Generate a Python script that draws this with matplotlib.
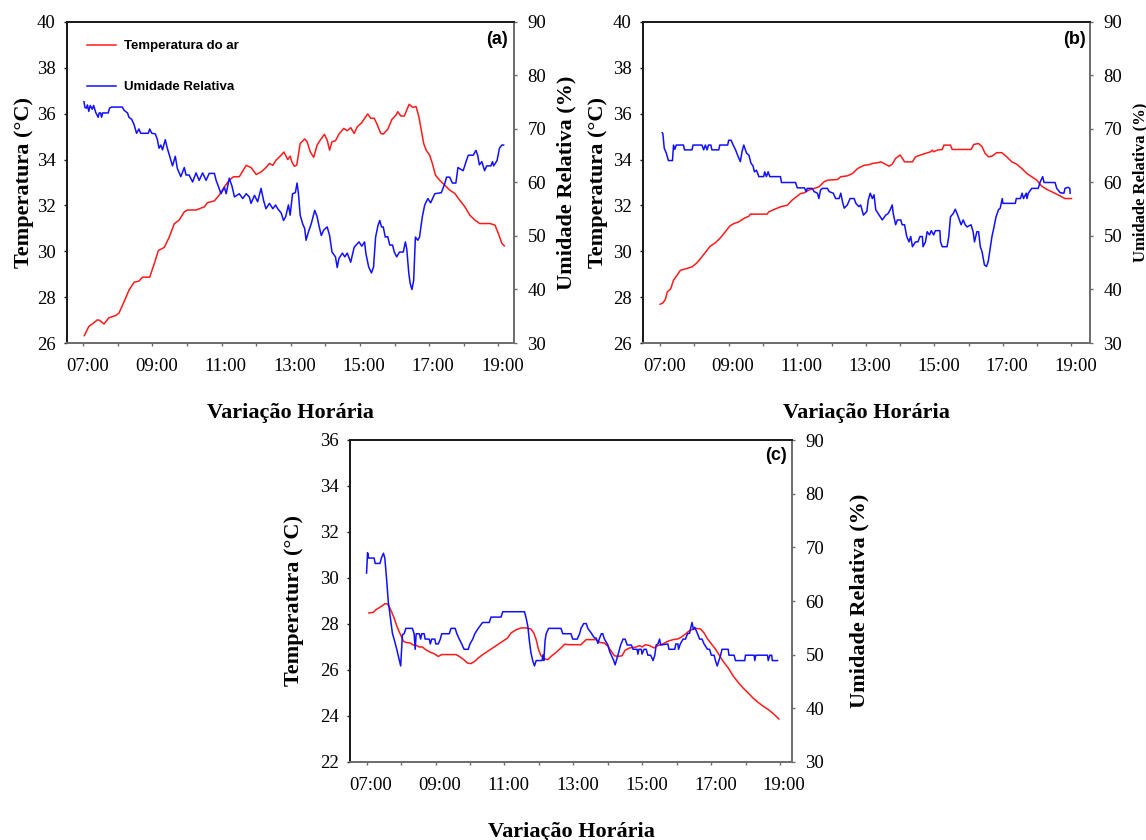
import matplotlib
matplotlib.use("Agg")
import matplotlib.pyplot as plt
from matplotlib.ticker import MultipleLocator, FixedLocator
from matplotlib.transforms import ScaledTranslation

# ---------------- data (hour of day, value) ----------------
tick_hours = [7, 9, 11, 13, 15, 17, 19]
tick_labels = ["07:00", "09:00", "11:00", "13:00", "15:00", "17:00", "19:00"]

a_temp = [(7.03,26.32),(7.16,26.72),(7.26,26.83),(7.41,27.01),(7.47,26.99),(7.6,26.83),(7.74,27.1),(7.94,27.2),
          (8.03,27.3),(8.18,27.8),(8.32,28.3),(8.47,28.65),(8.61,28.7),(8.71,28.87),(8.92,28.87),(9.05,29.45),
          (9.17,30.03),(9.34,30.17),(9.48,30.6),(9.63,31.2),(9.77,31.36),(9.92,31.72),(10.01,31.8),(10.26,31.8),
          (10.5,31.94),(10.59,32.12),(10.79,32.2),(10.93,32.45),(11.08,32.81),(11.22,33.1),(11.34,33.25),(11.51,33.25),
          (11.71,33.75),(11.85,33.65),(12.0,33.35),(12.14,33.46),(12.28,33.65),(12.38,33.83),(12.48,33.75),(12.57,33.97),
          (12.72,34.19),(12.8,34.33),(12.91,34.0),(12.98,34.15),(13.03,33.9),(13.1,33.71),(13.17,33.76),(13.27,34.7),
          (13.4,34.9),(13.47,34.78),(13.56,34.34),(13.66,34.1),(13.76,34.63),(13.85,34.85),(13.97,35.1),(14.05,34.85),
          (14.12,34.41),(14.19,34.78),(14.29,34.82),(14.39,35.11),(14.53,35.36),(14.63,35.26),(14.73,35.39),(14.83,35.14),
          (14.92,35.43),(15.05,35.61),(15.15,35.84),(15.22,35.99),(15.31,35.8),(15.41,35.8),(15.48,35.58),(15.6,35.14),
          (15.67,35.11),(15.8,35.32),(15.92,35.75),(16.04,35.94),(16.09,36.09),(16.18,35.9),(16.28,35.9),(16.35,36.16),
          (16.42,36.41),(16.52,36.28),(16.62,36.31),(16.7,35.87),(16.77,35.29),(16.84,34.7),(16.91,34.41),(17.01,34.2),
          (17.09,33.83),(17.18,33.32),(17.3,33.1),(17.45,32.88),(17.59,32.67),(17.74,32.52),(17.88,32.23),(18.03,31.94),
          (18.17,31.58),(18.32,31.36),(18.46,31.21),(18.76,31.21),(18.9,31.14),(19.0,30.77),(19.1,30.34),(19.17,30.24)]

a_rh = [(7.02,75.1),(7.05,74.0),(7.09,73.9),(7.12,74.5),(7.16,73.3),(7.2,74.4),(7.26,73.7),(7.3,74.4),(7.36,73.1),
        (7.43,72.2),(7.46,73.0),(7.5,73.0),(7.53,72.2),(7.56,73.0),(7.72,73.0),(7.76,73.9),(7.82,74.1),(8.13,74.1),
        (8.18,73.5),(8.28,73.0),(8.32,72.2),(8.4,71.8),(8.47,70.8),(8.54,69.2),(8.61,70.0),(8.66,69.2),(8.88,69.2),
        (8.92,70.0),(8.98,69.2),(9.08,69.1),(9.14,68.1),(9.19,66.4),(9.24,67.0),(9.29,66.1),(9.37,68.0),(9.43,66.4),
        (9.53,64.2),(9.58,63.1),(9.66,64.9),(9.72,62.6),(9.82,61.1),(9.92,62.8),(9.97,61.4),(10.06,61.4),(10.16,60.1),
        (10.26,61.8),(10.35,60.4),(10.45,61.8),(10.55,60.4),(10.64,61.7),(10.79,61.7),(10.84,60.4),(10.91,59.2),
        (10.98,57.9),(11.08,59.1),(11.13,57.9),(11.22,60.8),(11.3,59.3),(11.37,57.3),(11.51,57.9),(11.61,57.0),
        (11.71,57.9),(11.8,57.3),(11.85,56.1),(11.95,57.6),(12.04,56.4),(12.14,58.9),(12.21,56.7),(12.28,55.1),
        (12.38,56.1),(12.48,55.1),(12.56,55.8),(12.62,55.1),(12.72,54.3),(12.79,52.9),(12.85,53.6),(12.93,55.8),
        (12.98,53.9),(13.05,57.9),(13.13,58.1),(13.18,59.9),(13.22,57.9),(13.27,53.9),(13.34,52.3),(13.4,51.4),
        (13.44,49.2),(13.51,50.8),(13.59,52.3),(13.69,54.8),(13.76,53.6),(13.81,52.0),(13.88,50.1),(13.95,51.1),
        (14.05,51.7),(14.12,50.1),(14.19,47.0),(14.29,46.1),(14.34,44.1),(14.39,45.8),(14.49,46.8),(14.56,46.1),
        (14.63,46.8),(14.73,45.1),(14.83,47.9),(14.97,48.9),(15.05,48.1),(15.13,48.9),(15.17,46.7),(15.25,44.2),
        (15.33,43.1),(15.39,44.2),(15.45,49.8),(15.52,52.0),(15.57,52.9),(15.62,51.7),(15.67,51.7),(15.73,49.8),
        (15.8,49.9),(15.86,48.3),(15.94,48.3),(15.99,47.0),(16.06,46.1),(16.14,47.0),(16.25,47.0),(16.31,48.9),
        (16.35,47.6),(16.41,43.0),(16.45,41.1),(16.5,40.0),(16.55,41.7),(16.6,49.8),(16.67,49.2),(16.72,49.8),
        (16.8,53.6),(16.87,55.8),(16.96,57.0),(17.04,56.2),(17.11,57.2),(17.16,57.9),(17.35,58.1),(17.45,59.8),
        (17.5,61.0),(17.59,61.0),(17.67,59.9),(17.77,59.9),(17.83,62.8),(17.98,62.2),(18.08,64.2),(18.13,65.1),
        (18.27,65.1),(18.35,66.0),(18.4,65.1),(18.45,63.3),(18.52,63.9),(18.6,62.2),(18.66,63.1),(18.78,63.1),
        (18.83,63.9),(18.86,63.1),(18.96,64.1),(19.03,66.4),(19.1,67.0),(19.15,67.0)]

b_temp = [(7.0,27.69),(7.08,27.75),(7.15,27.89),(7.21,28.23),(7.31,28.37),(7.39,28.74),(7.49,28.95),(7.59,29.17),
          (7.78,29.25),(7.93,29.32),(8.07,29.49),(8.22,29.76),(8.37,30.05),(8.46,30.22),(8.61,30.37),(8.76,30.59),
          (8.9,30.85),(9.03,31.1),(9.15,31.21),(9.29,31.28),(9.44,31.43),(9.59,31.53),(9.63,31.62),(10.12,31.62),
          (10.17,31.72),(10.32,31.82),(10.51,31.94),(10.71,32.01),(10.85,32.23),(10.95,32.35),(11.1,32.52),(11.2,32.55),
          (11.34,32.67),(11.49,32.74),(11.63,32.81),(11.78,33.03),(11.88,33.1),(12.17,33.13),(12.27,33.25),(12.46,33.29),
          (12.61,33.39),(12.76,33.61),(12.95,33.75),(13.1,33.78),(13.19,33.83),(13.34,33.86),(13.44,33.9),(13.53,33.83),
          (13.68,33.71),(13.77,33.8),(13.87,34.05),(14.0,34.2),(14.09,34.0),(14.13,33.9),(14.36,33.9),(14.45,34.12),
          (14.6,34.2),(14.74,34.27),(14.89,34.34),(14.94,34.41),(14.98,34.34),(15.08,34.41),(15.23,34.44),(15.28,34.63),
          (15.47,34.63),(15.52,34.44),(16.07,34.44),(16.15,34.66),(16.29,34.7),(16.39,34.56),(16.48,34.27),(16.58,34.12),
          (16.68,34.15),(16.82,34.3),(16.97,34.3),(17.11,34.12),(17.26,33.9),(17.4,33.8),(17.55,33.61),(17.7,33.39),
          (17.84,33.25),(17.99,33.1),(18.13,32.84),(18.28,32.7),(18.42,32.6),(18.57,32.49),(18.71,32.38),(18.81,32.3),
          (19.0,32.3)]

b_rh = [(7.06,69.3),(7.08,69.1),(7.12,66.4),(7.18,65.5),(7.24,64.1),(7.36,64.1),(7.39,67.0),(7.43,66.2),(7.47,67.0),
        (7.68,67.0),(7.71,66.1),(7.93,66.1),(7.96,67.0),(8.22,67.0),(8.27,66.1),(8.32,67.0),(8.37,66.1),(8.41,67.0),
        (8.48,67.0),(8.51,66.1),(8.71,66.1),(8.74,67.0),(8.97,67.0),(9.0,67.9),(9.07,67.9),(9.13,67.0),(9.2,66.1),
        (9.26,65.1),(9.34,63.9),(9.39,65.8),(9.44,67.0),(9.52,65.5),(9.59,65.1),(9.65,63.6),(9.71,63.1),(9.75,62.0),
        (9.81,62.3),(9.88,61.1),(10.02,61.1),(10.05,62.0),(10.1,61.1),(10.15,62.0),(10.2,61.1),(10.51,61.1),
        (10.54,60.0),(10.95,60.0),(11.0,59.0),(11.21,59.0),(11.26,58.3),(11.29,58.9),(11.44,58.9),(11.49,58.3),
        (11.59,58.0),(11.63,57.0),(11.68,58.6),(11.73,58.9),(11.88,58.9),(11.93,58.3),(12.05,58.0),(12.12,57.0),
        (12.22,57.0),(12.27,58.0),(12.32,56.4),(12.37,55.2),(12.46,55.8),(12.54,57.0),(12.66,57.0),(12.71,56.1),
        (12.8,55.5),(12.85,55.8),(12.93,53.9),(13.03,54.6),(13.07,56.7),(13.13,58.0),(13.19,57.0),(13.24,57.7),
        (13.29,54.9),(13.39,53.9),(13.48,53.0),(13.58,53.9),(13.65,54.2),(13.71,54.9),(13.77,55.8),(13.8,54.2),
        (13.87,52.1),(13.92,53.0),(14.02,53.0),(14.06,52.1),(14.13,52.1),(14.19,50.0),(14.26,48.9),(14.31,49.9),
        (14.36,48.0),(14.45,48.9),(14.52,48.9),(14.58,49.9),(14.65,49.9),(14.67,48.0),(14.74,48.9),(14.79,50.8),
        (14.86,50.2),(14.91,51.0),(14.98,50.2),(15.03,51.0),(15.16,51.0),(15.18,48.9),(15.23,48.0),(15.37,48.0),
        (15.42,49.9),(15.47,53.6),(15.55,54.2),(15.61,55.0),(15.68,53.9),(15.73,53.0),(15.78,52.1),(15.84,53.0),
        (15.9,52.1),(15.95,51.7),(16.07,52.1),(16.13,50.8),(16.17,48.9),(16.24,50.8),(16.29,50.8),(16.34,48.0),
        (16.39,47.1),(16.46,44.6),(16.52,44.3),(16.57,45.2),(16.63,47.7),(16.68,49.9),(16.73,51.4),(16.8,53.6),
        (16.87,54.9),(16.92,55.2),(16.98,57.0),(17.0,56.1),(17.36,56.1),(17.39,57.0),(17.51,57.0),(17.56,58.0),
        (17.6,57.0),(17.68,58.0),(17.7,57.0),(17.74,58.0),(17.84,58.9),(18.03,58.9),(18.08,60.0),(18.16,61.1),
        (18.2,60.0),(18.52,60.0),(18.57,58.9),(18.67,58.1),(18.78,58.0),(18.81,58.9),(18.9,59.1),(18.95,58.9),
        (18.96,58.0)]

c_temp = [(7.07,28.48),(7.2,28.51),(7.27,28.62),(7.36,28.7),(7.46,28.8),(7.53,28.88),(7.6,28.88),(7.65,28.77),
          (7.72,28.55),(7.8,28.26),(7.88,27.9),(7.94,27.68),(8.01,27.46),(8.07,27.25),(8.14,27.2),(8.28,27.17),
          (8.33,27.1),(8.46,27.06),(8.53,27.0),(8.62,27.0),(8.72,26.88),(8.85,26.77),(8.96,26.71),(9.08,26.59),
          (9.18,26.67),(9.59,26.67),(9.69,26.59),(9.82,26.45),(9.93,26.3),(10.03,26.28),(10.14,26.38),(10.24,26.52),
          (10.37,26.67),(10.51,26.81),(10.66,26.96),(10.8,27.1),(10.95,27.25),(11.09,27.39),(11.19,27.61),(11.34,27.75),
          (11.48,27.83),(11.63,27.83),(11.77,27.78),(11.85,27.61),(11.92,27.32),(11.99,26.88),(12.06,26.62),(12.16,26.48),
          (12.26,26.45),(12.35,26.59),(12.5,26.77),(12.64,26.96),(12.74,27.12),(12.9,27.1),(13.22,27.1),(13.37,27.32),
          (13.66,27.32),(13.76,27.2),(13.9,27.17),(14.0,27.03),(14.1,26.81),(14.19,26.62),(14.29,26.59),(14.41,26.62),
          (14.5,26.86),(14.63,26.96),(14.82,27.0),(14.92,27.06),(14.99,27.0),(15.09,27.1),(15.21,27.06),(15.34,26.96),
          (15.45,27.06),(15.6,27.14),(15.74,27.25),(15.89,27.32),(16.03,27.35),(16.13,27.43),(16.23,27.54),(16.34,27.68),
          (16.47,27.78),(16.57,27.81),(16.69,27.78),(16.79,27.61),(16.89,27.35),(17.0,27.14),(17.12,26.91),(17.22,26.67),
          (17.34,26.38),(17.49,26.09),(17.63,25.75),(17.78,25.46),(17.92,25.22),(18.07,25.0),(18.21,24.78),(18.36,24.59),
          (18.51,24.42),(18.65,24.28),(18.8,24.1),(18.96,23.87)]

c_rh = [(7.0,65.2),(7.03,69.0),(7.06,68.0),(7.22,68.0),(7.25,67.0),(7.39,67.0),(7.43,68.0),(7.49,68.9),(7.53,68.0),
        (7.58,64.2),(7.63,59.9),(7.68,57.4),(7.75,54.0),(7.82,52.4),(7.88,50.9),(7.94,49.3),(7.99,47.9),(8.04,53.7),
        (8.09,53.9),(8.14,54.9),(8.33,54.9),(8.38,53.9),(8.41,51.0),(8.44,53.9),(8.53,53.9),(8.57,52.9),(8.6,53.9),
        (8.67,53.9),(8.7,52.9),(8.82,52.9),(8.85,52.0),(8.89,52.9),(8.98,52.9),(9.01,52.0),(9.08,52.0),(9.14,52.9),
        (9.18,53.9),(9.4,53.9),(9.45,54.9),(9.57,54.9),(9.62,53.9),(9.69,52.9),(9.76,52.0),(9.83,51.0),(9.95,51.0),
        (10.0,52.0),(10.08,52.9),(10.14,53.9),(10.24,54.9),(10.34,55.8),(10.37,56.0),(10.56,56.0),(10.61,57.0),
        (10.9,57.0),(10.95,58.0),(11.58,58.0),(11.63,56.8),(11.68,55.2),(11.72,52.7),(11.77,50.3),(11.82,48.9),
        (11.87,47.9),(11.92,48.9),(12.09,48.9),(12.12,50.0),(12.14,48.9),(12.18,52.7),(12.21,53.9),(12.28,54.9),
        (12.64,54.9),(12.69,53.9),(12.93,53.9),(12.98,52.9),(13.11,52.9),(13.18,53.9),(13.22,54.9),(13.3,55.8),
        (13.37,55.8),(13.42,54.9),(13.52,54.0),(13.61,53.1),(13.66,53.1),(13.71,52.1),(13.76,53.1),(13.81,53.9),
        (13.85,53.9),(13.9,52.9),(14.0,51.8),(14.05,50.6),(14.1,49.9),(14.17,48.9),(14.21,48.1),(14.29,49.9),
        (14.37,51.8),(14.44,52.9),(14.5,52.9),(14.56,51.8),(14.68,51.8),(14.73,51.0),(14.85,51.0),(14.87,50.1),
        (14.9,51.0),(14.97,51.0),(14.99,50.1),(15.05,51.0),(15.11,51.0),(15.16,49.9),(15.24,49.9),(15.31,48.9),
        (15.36,49.9),(15.4,51.8),(15.45,52.0),(15.5,52.9),(15.53,51.8),(15.74,52.0),(15.77,51.0),(15.94,51.0),
        (15.97,52.0),(16.03,52.0),(16.05,51.0),(16.1,52.0),(16.18,52.9),(16.25,52.9),(16.31,53.9),(16.37,54.0),
        (16.4,54.9),(16.44,56.0),(16.48,54.7),(16.52,55.1),(16.6,53.9),(16.66,52.9),(16.73,52.9),(16.79,52.0),
        (16.89,51.0),(16.95,51.0),(17.0,49.9),(17.08,49.9),(17.12,48.9),(17.17,47.9),(17.22,48.9),(17.27,49.9),
        (17.31,51.0),(17.49,51.0),(17.51,49.9),(17.66,49.9),(17.7,48.9),(17.97,48.9),(17.99,49.9),(18.24,49.9),
        (18.26,48.9),(18.29,49.9),(18.63,49.9),(18.65,48.9),(18.7,49.9),(18.75,49.9),(18.77,48.9),(18.92,48.9)]

# ---------------- figure ----------------
W, H = 1146, 840
fig = plt.figure(figsize=(W / 100, H / 100), dpi=100)

SERIF = "Liberation Serif"
SANS = "Liberation Sans"
RED = "#ff1a1a"
BLUE = "#1010ff"
DARK = "#1a1a1a"
GREY = "#6e6e6e"


def rect(left, top, right, bottom):
    return [left / W, 1 - bottom / H, (right - left) / W, (bottom - top) / H]


def panel(box, xlim, tlim, tticks, temp, rh, tag, tag_xy, left_lab_x, right_lab_x, right_lab_size,
          xlab_top, legend=False):
    ax = fig.add_axes(rect(*box))
    ax2 = ax.twinx()
    tt, tv = zip(*temp)
    rt, rv = zip(*rh)
    l1, = ax.plot(tt, tv, color=RED, lw=1.1, label="Temperatura do ar")
    l2, = ax2.plot(rt, rv, color=BLUE, lw=1.1, label="Umidade Relativa")
    ax.set_xlim(*xlim)
    ax.set_ylim(*tlim)
    ax2.set_ylim(30, 90)
    ax.set_yticks(tticks)
    ax2.set_yticks(range(30, 91, 10))
    ax.xaxis.set_major_locator(FixedLocator(tick_hours))
    ax.set_xticklabels(tick_labels)
    ax.xaxis.set_minor_locator(MultipleLocator(1))
    for a in (ax, ax2):
        a.spines["left"].set_color(DARK)
        a.spines["top"].set_color(DARK)
        a.spines["right"].set_color(GREY)
        a.spines["bottom"].set_color(GREY)
        for s in a.spines.values():
            s.set_linewidth(1.3)
        a.tick_params(which="both", direction="out", color=GREY, width=1.0, length=2.5)
        a.tick_params(which="major", labelsize=13.5)
        for lab in a.get_xticklabels() + a.get_yticklabels():
            lab.set_fontfamily(SERIF)
    ax.tick_params(axis="y", colors=DARK, labelcolor="black", pad=5.8)
    ax.tick_params(axis="x", which="both", pad=8.6)
    ax2.tick_params(axis="y", pad=7.2)
    off = ScaledTranslation(4 / 100, 0, fig.dpi_scale_trans)
    for lab in ax.get_xticklabels():
        lab.set_transform(lab.get_transform() + off)
    # labels
    ax.set_ylabel("Temperatura (°C)", fontfamily=SERIF, fontweight="bold", fontsize=16)
    ax2.set_ylabel("Umidade Relativa (%)", fontfamily=SERIF, fontweight="bold", fontsize=right_lab_size,
                   rotation=90)
    l, t, r, b = box
    ax.yaxis.set_label_coords((left_lab_x - l) / (r - l), 0.5)
    ax2.yaxis.set_label_coords((right_lab_x - l) / (r - l), 0.5)
    ax.set_xlabel("Variação Horária", fontfamily=SERIF, fontweight="bold", fontsize=16)
    ax.xaxis.set_label_coords(0.5, (b - xlab_top) / (b - t))
    ax2.text((tag_xy[0] - l) / (r - l), (b - tag_xy[1]) / (b - t), tag, transform=ax2.transAxes,
             ha="center", va="center", fontfamily=SANS, fontweight="bold", fontsize=13)
    if legend:
        ax2.legend([l1, l2], ["Temperatura do ar", "Umidade Relativa"], loc="upper left",
                   bbox_to_anchor=((87 - l) / (r - l), (b - 40) / (b - t)),
                   frameon=False, borderpad=0, borderaxespad=0, handlelength=2.2,
                   handletextpad=0.6, labelspacing=2.2,
                   prop={"family": SANS, "weight": "bold", "size": 9.5})
    return ax, ax2


panel((67, 22, 514, 343), (6.53, 19.45), (26, 40), range(26, 41, 2), a_temp, a_rh, "(a)", (497, 40),
      34, 556, 16, 403, legend=True)
panel((643, 22, 1090, 343), (6.5, 19.54), (26, 40), range(26, 41, 2), b_temp, b_rh, "(b)", (1075, 40),
      608, 1132, 12, 403)
panel((350, 440, 792, 762), (6.52, 19.34), (22, 36), range(22, 37, 2), c_temp, c_rh, "(c)", (776, 456),
      304, 849, 16, 822)

fig.savefig("out.png", dpi=100)
